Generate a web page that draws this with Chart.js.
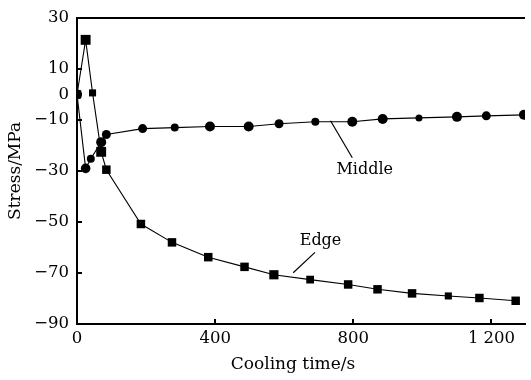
<!DOCTYPE html>
<html>
<head>
<meta charset="utf-8">
<script src="https://cdn.jsdelivr.net/npm/chart.js@4.4.0/dist/chart.umd.min.js"></script>
<style>
  html, body { margin: 0; padding: 0; background: #fff; }
  #wrap { width: 531px; height: 380px; }
</style>
</head>
<body>
<div id="wrap"><canvas id="c"></canvas></div>
<script>
// =====================
// 資料
// =====================
const edgeTime   = [0, 25, 45, 70, 85, 185, 275, 380, 485, 570, 675, 785, 870, 970, 1075, 1165, 1270];
const edgeStress = [0, 21.4, 0.6, -22.5, -29.5, -50.8, -58, -63.8, -67.6, -70.7, -72.6, -74.5, -76.4, -78, -79, -79.8, -80.9];

const middleTime   = [0, 25, 40, 70, 85, 190, 283, 385, 497, 585, 690, 797, 885, 990, 1100, 1185, 1294];
const middleStress = [0, -29, -25.2, -18.7, -15.7, -13.4, -13, -12.6, -12.6, -11.5, -10.7, -10.7, -9.6, -9.2, -8.8, -8.4, -8];

const xTicks = [0, 400, 800, 1200];
const yTicks = [30, 10, 0, -10, -30, -50, -70, -90];

// 標註 (資料座標)
const labels = [
  { text: 'Middle', at: [833, -29.6], from: [734, -10.3], to: [797, -24.8] },
  { text: 'Edge',   at: [705, -57.5], from: [626, -69.9], to: [689, -61.9] },
];

const FONT = 'DejaVu Serif';
const fmt = v => {
  let s = Math.abs(v) >= 1000 ? String(Math.abs(v)).replace(/(\d)(\d{3})$/, '$1 $2') : String(Math.abs(v));
  return v < 0 ? '\u2212' + s : s;
};

// 刻度、外框、標註
const decor = {
  id: 'decor',
  afterDatasetsDraw(chart) {
    const { ctx, chartArea: a, scales: { x, y } } = chart;
    ctx.save();
    ctx.strokeStyle = '#000';
    ctx.lineWidth = 2;
    ctx.beginPath();
    ctx.moveTo(a.left - 1, a.top);
    ctx.lineTo(a.right, a.top);
    yTicks.forEach(v => {
      if (v === 30 || v === -90) return;
      const py = Math.round(y.getPixelForValue(v));
      ctx.moveTo(a.left, py);
      ctx.lineTo(a.left + 5, py);
    });
    xTicks.forEach(v => {
      if (v === 0) return;
      const px = Math.round(x.getPixelForValue(v));
      ctx.moveTo(px, a.bottom);
      ctx.lineTo(px, a.bottom - 5);
    });
    ctx.stroke();

    ctx.lineWidth = 1.2;
    ctx.fillStyle = '#000';
    ctx.font = '16px "' + FONT + '"';
    ctx.textAlign = 'center';
    ctx.textBaseline = 'middle';
    labels.forEach(l => {
      ctx.beginPath();
      ctx.moveTo(x.getPixelForValue(l.from[0]), y.getPixelForValue(l.from[1]));
      ctx.lineTo(x.getPixelForValue(l.to[0]), y.getPixelForValue(l.to[1]));
      ctx.stroke();
      ctx.fillText(l.text, x.getPixelForValue(l.at[0]), y.getPixelForValue(l.at[1]));
    });

    // x 軸標題
    ctx.font = '17px "' + FONT + '"';
    ctx.fillText('Cooling time/s', 293, 365);
    ctx.restore();
  }
};

Chart.defaults.font.family = FONT;
Chart.defaults.color = '#000';

new Chart(document.getElementById('c'), {
  type: 'line',
  data: {
    datasets: [
      {
        label: 'Edge',
        data: edgeTime.map((t, i) => ({ x: t, y: edgeStress[i] })),
        borderColor: '#000',
        borderWidth: 1.1,
        pointStyle: 'rect',
        pointRadius: [6, 7, 5, 7, 6, 6, 6, 6, 6, 6.5, 5.5, 6, 6, 6, 5, 6, 6],
        pointBackgroundColor: '#000',
        pointBorderWidth: 0,
        tension: 0,
      },
      {
        label: 'Middle',
        data: middleTime.map((t, i) => ({ x: t, y: middleStress[i] })),
        borderColor: '#000',
        borderWidth: 1.1,
        pointStyle: 'circle',
        pointRadius: [5, 4.8, 4, 5, 4.5, 4.5, 4, 5, 5, 4.5, 4, 5, 5, 3.5, 5, 4.5, 5],
        pointBackgroundColor: '#000',
        pointBorderWidth: 0,
        tension: 0,
      }
    ]
  },
  options: {
    responsive: true,
    maintainAspectRatio: false,
    animation: false,
    layout: { padding: { top: 10, right: 0, bottom: 0, left: 0 } },
    plugins: { legend: { display: false }, tooltip: { enabled: false } },
    scales: {
      x: {
        type: 'linear',
        min: 0,
        max: 1297,
        afterBuildTicks: s => { s.ticks = xTicks.map(v => ({ value: v })); },
        afterFit: s => { s.height = 56; },
        grid: { drawOnChartArea: false, drawTicks: false },
        border: { display: true, color: '#000', width: 2 },
        ticks: { padding: 5, font: { size: 16.5 }, callback: v => fmt(v) },
      },
      y: {
        min: -90,
        max: 30,
        afterBuildTicks: s => { s.ticks = yTicks.map(v => ({ value: v })); },
        afterFit: s => { s.width = 77; },
        grid: { drawOnChartArea: false, drawTicks: false },
        border: { display: true, color: '#000', width: 2 },
        ticks: { padding: 8, font: { size: 16.5 }, callback: v => fmt(v) },
        title: { display: true, text: 'Stress/MPa', font: { size: 17 }, padding: { top: 5 } },
      }
    }
  },
  plugins: [decor]
});
</script>
</body>
</html>
